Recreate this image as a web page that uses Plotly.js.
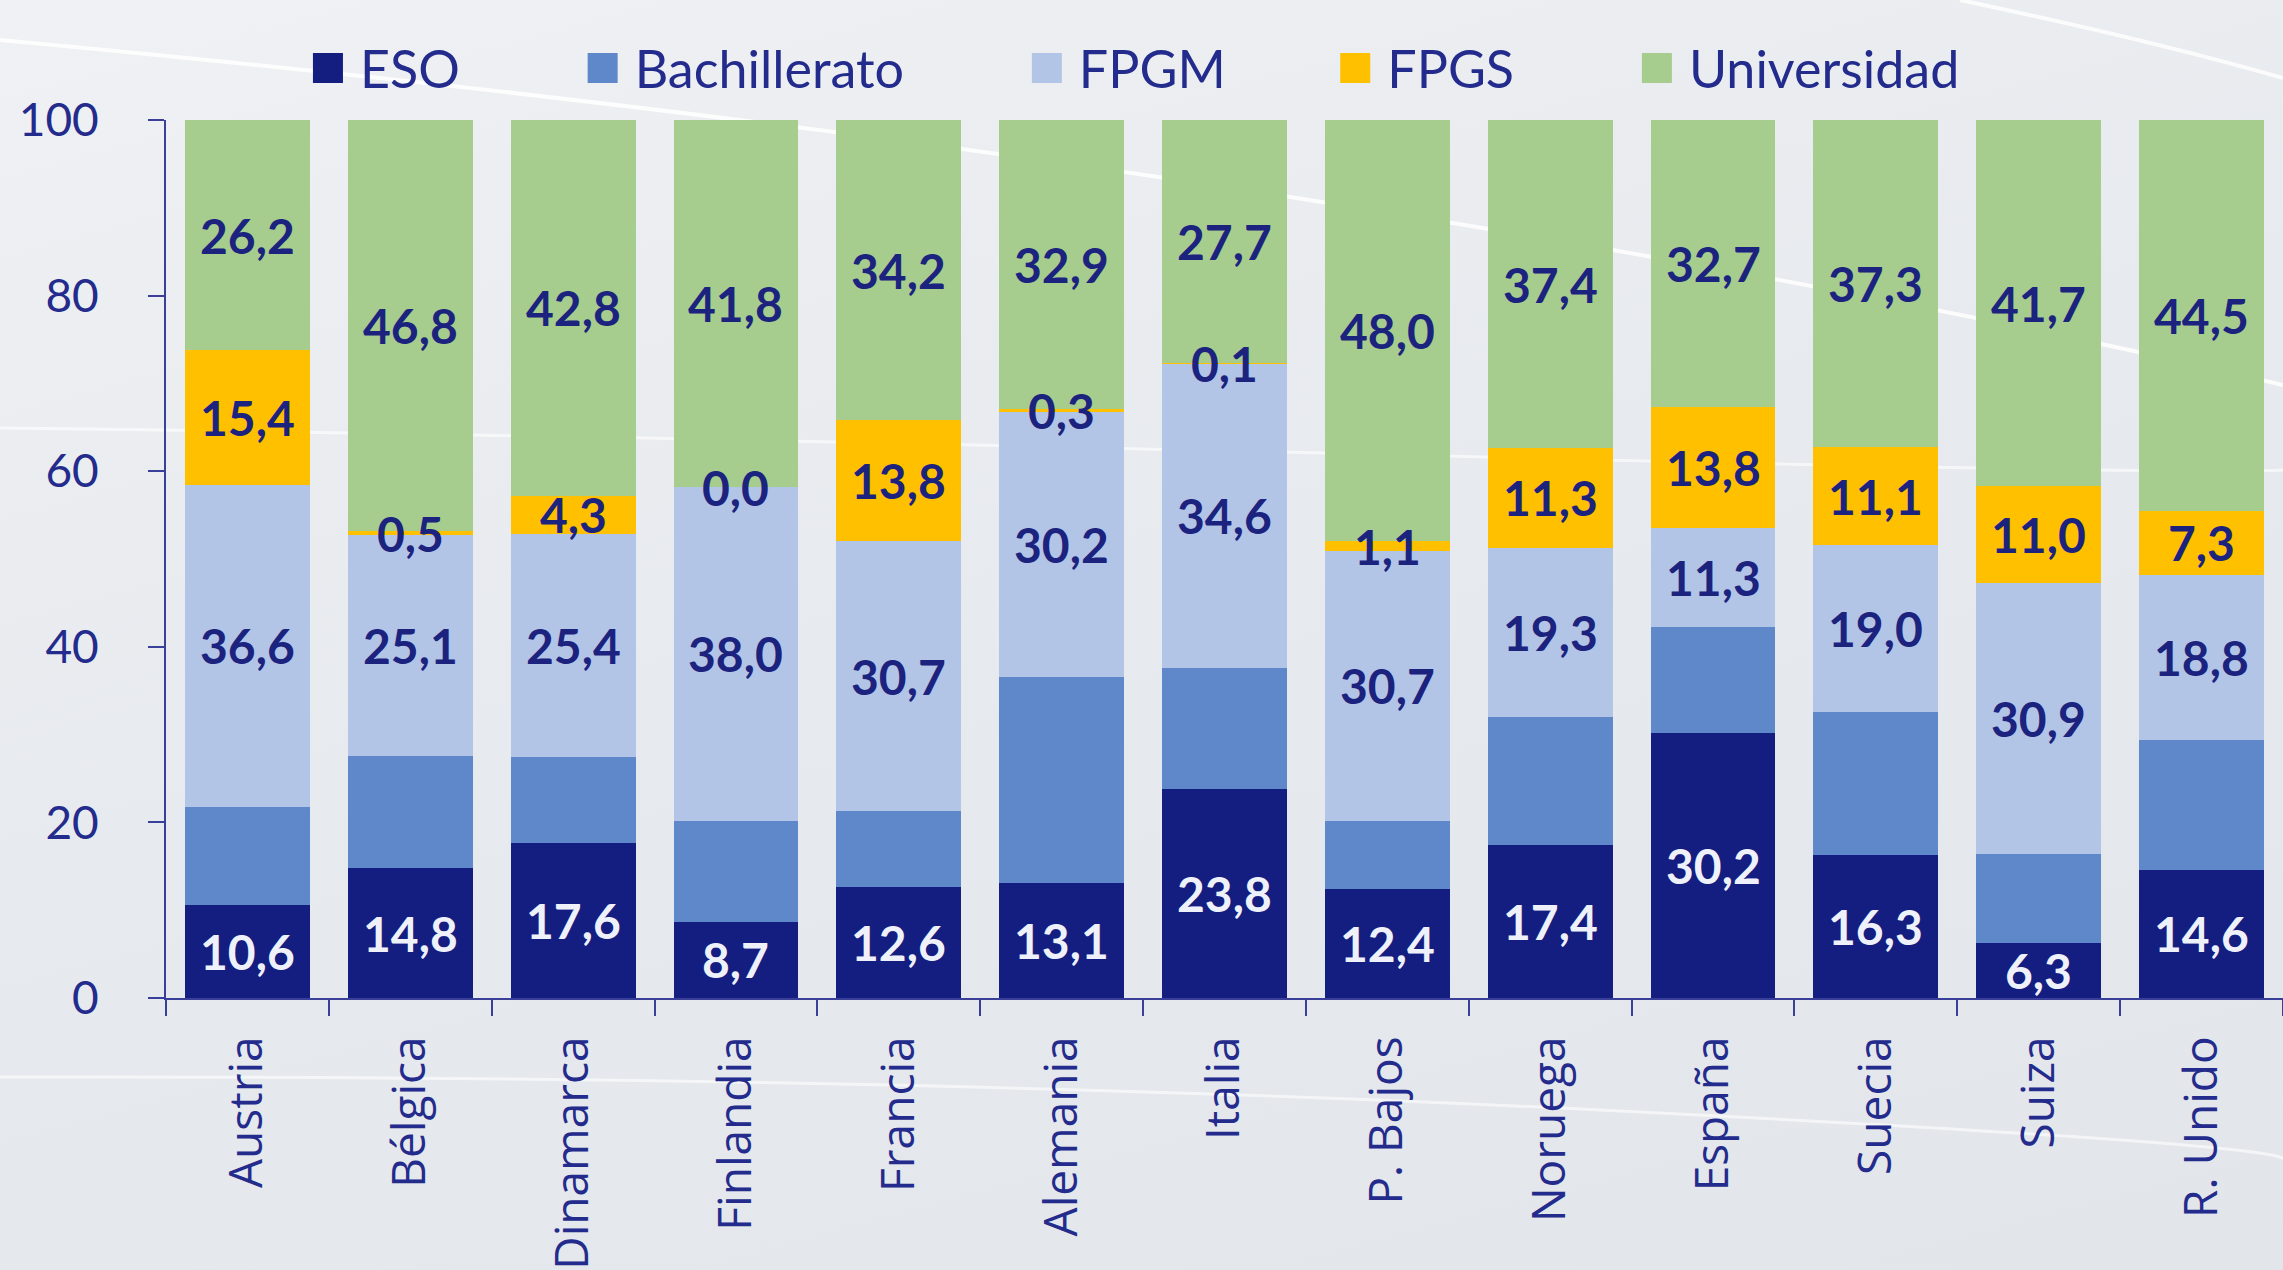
<!DOCTYPE html>
<html><head><meta charset="utf-8">
<script src="https://cdn.plot.ly/plotly-3.0.1.min.js"></script>
<style>
html,body{margin:0;padding:0;width:2283px;height:1270px;overflow:hidden;
background:linear-gradient(165deg,#eff1f4 0%,#e7eaee 45%,#e2e5ea 100%);}
#bg{position:absolute;left:0;top:0;}
#chart{position:absolute;left:0;top:0;width:2283px;height:1270px;}
#chart .legendpoints path{transform:translate(18px,0) scale(2.5);}
</style></head><body>
<svg id="bg" width="2283" height="1270">
<path d="M0,40 Q700,105 1290,197 T2283,385" stroke="#ffffff" stroke-opacity="0.85" stroke-width="4" fill="none"/>
<path d="M1960,0 Q2150,40 2283,78" stroke="#ffffff" stroke-opacity="0.8" stroke-width="4" fill="none"/>
<path d="M0,428 Q600,435 1400,455 T2283,470" stroke="#ffffff" stroke-opacity="0.6" stroke-width="3" fill="none"/>
<path d="M0,1077 Q900,1075 1600,1110 T2283,1160" stroke="#ffffff" stroke-opacity="0.6" stroke-width="3" fill="none"/>
</svg>
<div id="chart"></div>
<script>
const countries = ["Austria","Bélgica","Dinamarca","Finlandia","Francia","Alemania","Italia","P. Bajos","Noruega","España","Suecia","Suiza","R. Unido"];
const seriesNames = ["ESO","Bachillerato","FPGM","FPGS","Universidad"];
const eso          = [10.6,14.8,17.6, 8.7,12.6,13.1,23.8,12.4,17.4,30.2,16.3, 6.3,14.6];
const bachillerato = [11.2,12.8, 9.9,11.5, 8.7,23.5,13.8, 7.8,14.6,12.0,16.3,10.1,14.8];
const fpgm         = [36.6,25.1,25.4,38.0,30.7,30.2,34.6,30.7,19.3,11.3,19.0,30.9,18.8];
const fpgs         = [15.4, 0.5, 4.3, 0.0,13.8, 0.3, 0.1, 1.1,11.3,13.8,11.1,11.0, 7.3];
const universidad  = [26.2,46.8,42.8,41.8,34.2,32.9,27.7,48.0,37.4,32.7,37.3,41.7,44.5];
const showLabels   = [true,false,true,true,true];

const seriesValues = [eso, bachillerato, fpgm, fpgs, universidad];
const colors = ["#141d80","#5f88cb","#b3c5e6","#ffc000","#a6cd8d"];
const labelColors = ["#eef1fa","#1b237f","#1b237f","#1b237f","#1b237f"];
const legendPad = [9, 9, 8, 9, 0];

const traces = seriesValues.map((vals, s) => ({
  type: "bar",
  name: seriesNames[s] + "\u00a0".repeat(legendPad[s]),
  x: countries,
  y: vals,
  marker: {color: colors[s], line: {width: 0}},
  hoverinfo: "x+y"
}));

const annotations = [];
const fmt = v => v.toFixed(1).replace(".", ",");
countries.forEach((c, i) => {
  let base = 0;
  seriesValues.forEach((vals, s) => {
    const v = vals[i];
    if (showLabels[s]) {
      annotations.push({
        x: c, y: base + v / 2, xref: "x", yref: "y",
        text: fmt(v), showarrow: false,
        font: {family: "Lato, 'Open Sans', sans-serif", size: 48, color: labelColors[s], weight: 700}
      });
    }
    base += v;
  });
});

const axisColor = "#3a3f9a";
const textColor = "#232b8c";
const layout = {
  width: 2283, height: 1270,
  paper_bgcolor: "rgba(0,0,0,0)", plot_bgcolor: "rgba(0,0,0,0)",
  margin: {l: 166, r: 0, t: 120, b: 272, pad: 0},
  barmode: "stack", bargap: 0.233,
  separators: ",.",
  showlegend: true,
  legend: {orientation: "h", x: 0.068, y: 1.059, xanchor: "left", yanchor: "middle",
    itemwidth: 40,
    bgcolor: "rgba(0,0,0,0)", font: {family: "Lato, sans-serif", size: 52, color: textColor},
    traceorder: "normal"},
  xaxis: {type: "category", range: [-0.5, 12.5], tickson: "boundaries", ticks: "outside",
    ticklen: 16, tickwidth: 2, tickcolor: axisColor, showline: true, linecolor: axisColor, linewidth: 2,
    showgrid: false, tickangle: -90, ticklabelstandoff: 18,
    tickfont: {family: "'Open Sans', sans-serif", size: 46, color: textColor}},
  yaxis: {range: [0, 100], dtick: 20, ticks: "outside", ticklen: 16, tickwidth: 2, tickcolor: axisColor,
    showline: true, linecolor: axisColor, linewidth: 2, showgrid: false, zeroline: false,
    ticklabelstandoff: 40,
    tickfont: {family: "Lato, sans-serif", size: 46, color: textColor}},
  annotations: annotations
};
Plotly.newPlot("chart", traces, layout, {displayModeBar: false, staticPlot: true});
</script></body></html>
